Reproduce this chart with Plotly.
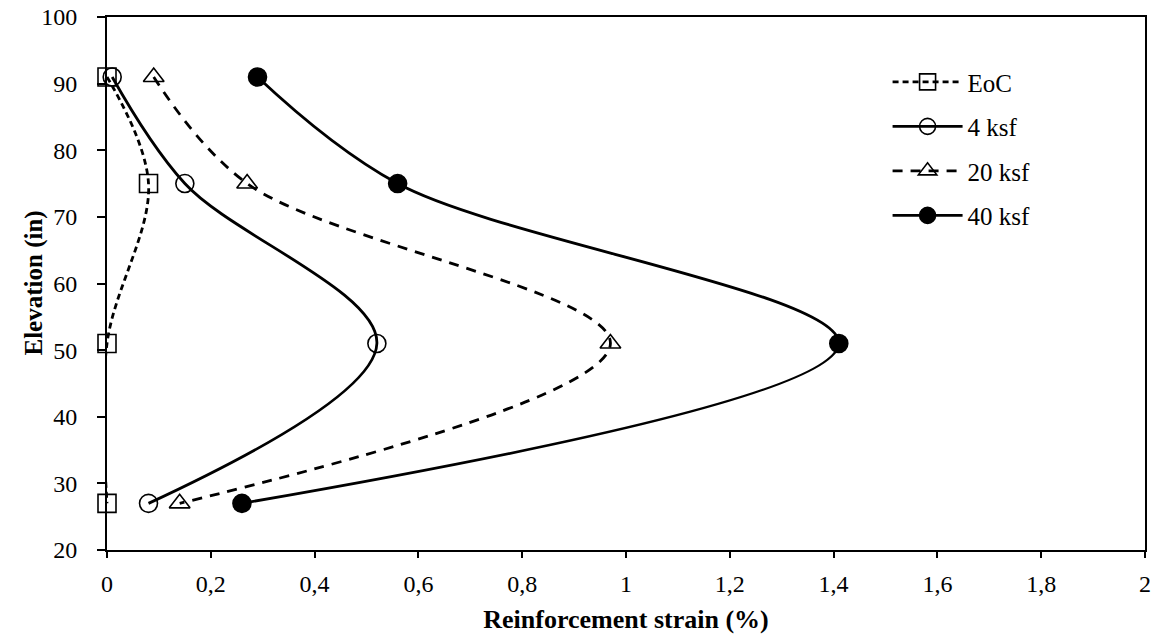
import plotly.graph_objects as go

# Elevation of the strain gauges (in)
elevation = [91, 75, 51, 27]

# Reinforcement strain (%) for each loading stage
strain_eoc = [0.0, 0.08, 0.0, 0.0]
strain_4ksf = [0.01, 0.15, 0.52, 0.08]
strain_20ksf = [0.09, 0.27, 0.97, 0.14]
strain_40ksf = [0.29, 0.56, 1.41, 0.26]

series_names = ["EoC", "4 ksf", "20 ksf", "40 ksf"]

x_ticks = [0, 0.2, 0.4, 0.6, 0.8, 1, 1.2, 1.4, 1.6, 1.8, 2]
x_tick_text = ["0", "0,2", "0,4", "0,6", "0,8", "1", "1,2", "1,4", "1,6", "1,8", "2"]
y_ticks = [20, 30, 40, 50, 60, 70, 80, 90, 100]

styles = [
    dict(dash="6px,4px", symbol="square-open"),
    dict(dash="solid", symbol="circle-open"),
    dict(dash="10px,8px", symbol="triangle-up-open"),
    dict(dash="solid", symbol="circle"),
]

font_family = "Liberation Serif, Times New Roman, serif"

fig = go.Figure()
for name, xs, st in zip(series_names, [strain_eoc, strain_4ksf, strain_20ksf, strain_40ksf], styles):
    fig.add_trace(go.Scatter(
        x=xs, y=elevation, name=name, legendgroup=name,
        mode="lines+markers", cliponaxis=False,
        line=dict(color="black", width=2.8, dash=st["dash"], shape="spline", smoothing=1.0),
        marker=dict(symbol=st["symbol"], size=18, color="black",
                    line=dict(color="black", width=1.6)),
    ))

fig.update_layout(
    width=1158, height=634,
    margin=dict(l=107, r=13, t=17, b=84),
    plot_bgcolor="white", paper_bgcolor="white",
    font=dict(family=font_family, size=24, color="black"),
    showlegend=True,
    legend=dict(x=0.752, y=0.921, xanchor="left", yanchor="top",
                bgcolor="rgba(0,0,0,0)", font=dict(size=25, family=font_family),
                itemwidth=70, tracegroupgap=9),
    xaxis=dict(range=[0, 2], tickvals=x_ticks, ticktext=x_tick_text,
               automargin=False,
               showgrid=False, zeroline=False,
               showline=True, linecolor="black", linewidth=2, mirror=True,
               ticks="outside", ticklen=6, tickwidth=2, tickcolor="black",
               ticklabelstandoff=5,
               tickfont=dict(size=24, family=font_family),
               title=dict(text="<b>Reinforcement strain (%)</b>", standoff=14,
                          font=dict(size=26, family=font_family))),
    yaxis=dict(range=[20, 100], tickvals=y_ticks,
               automargin=False,
               showgrid=False, zeroline=False,
               showline=True, linecolor="black", linewidth=2, mirror=True,
               ticks="outside", ticklen=8, tickwidth=2, tickcolor="black",
               ticklabelstandoff=15,
               tickfont=dict(size=24, family=font_family)),
    annotations=[dict(text="<b>Elevation (in)</b>", textangle=-90,
                      xref="paper", yref="paper", x=0, y=0.5,
                      xanchor="center", yanchor="middle", xshift=-74,
                      showarrow=False, font=dict(size=25, family=font_family))],
)

fig.write_html("out.html")
